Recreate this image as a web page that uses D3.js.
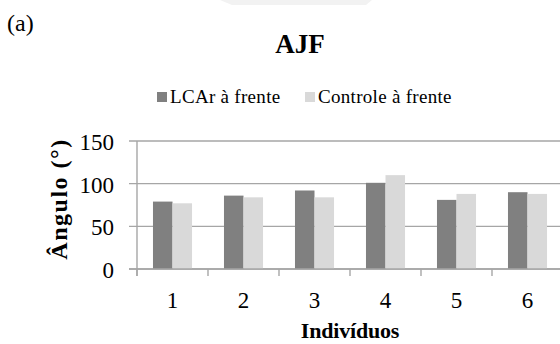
<!DOCTYPE html>
<html>
<head>
<meta charset="utf-8">
<script src="https://cdn.jsdelivr.net/npm/d3@7"></script>
<style>
  body { margin: 0; background: #fff; }
  text { font-family: "Liberation Serif", "Times New Roman", serif; }
</style>
</head>
<body>
<script>
// data
var individuos = ["1", "2", "3", "4", "5", "6"];
var series = ["LCAr à frente", "Controle à frente"];
var lcar = [79, 86, 92, 101, 81, 90];
var controle = [77, 84, 84, 110, 88, 88];
var yTicks = [0, 50, 100, 150];

var colors = ["#808080", "#d9d9d9"];
var gridColor = "#a6a6a6";

var width = 560, height = 344;
var margin = { top: 141, right: -3, bottom: 75, left: 137 };

var svg = d3.select("body")
    .append("svg")
    .attr("width", width)
    .attr("height", height);

// faint shape at the top edge
svg.append("path")
    .attr("d", "M220,0 L372,0 L366,5 L232,5 Z")
    .attr("fill", "#f2f2f2");

svg.append("text")
    .attr("x", 7).attr("y", 31)
    .attr("font-size", 24)
    .text("(a)");

svg.append("text")
    .attr("x", 300).attr("y", 53)
    .attr("text-anchor", "middle")
    .attr("font-size", 27)
    .attr("font-weight", "bold")
    .text("AJF");

var x0 = d3.scaleBand()
    .domain(individuos)
    .range([margin.left, width - margin.right]);

var x1 = d3.scaleBand()
    .domain(series)
    .range([x0.bandwidth() * 0.225, x0.bandwidth() * 0.775]);

var y = d3.scaleLinear()
    .domain([0, 150])
    .range([height - margin.bottom, margin.top]);

// gridlines
svg.append("g")
    .selectAll("line")
    .data(yTicks)
    .enter().append("line")
    .attr("x1", margin.left - 8)
    .attr("x2", width - margin.right)
    .attr("y1", function (d) { return y(d) })
    .attr("y2", function (d) { return y(d) })
    .attr("stroke", gridColor)
    .attr("stroke-width", 1.4);

// y tick labels
svg.append("g")
    .selectAll("text")
    .data(yTicks)
    .enter().append("text")
    .attr("x", 114)
    .attr("y", function (d) { return y(d) + 9 })
    .attr("text-anchor", "end")
    .attr("font-size", 23)
    .text(function (d) { return d });

// bars
var table = individuos.map(function (c, i) {
    return { cat: c, values: [lcar[i], controle[i]] };
});

var groups = svg.append("g")
    .selectAll("g")
    .data(table)
    .enter().append("g")
    .attr("transform", function (d) { return "translate(" + x0(d.cat) + ",0)" });

groups.selectAll("rect")
    .data(function (d) { return d.values.map(function (v, j) { return { s: series[j], v: v, j: j } }) })
    .enter().append("rect")
    .attr("x", function (d) { return x1(d.s) })
    .attr("width", x1.bandwidth())
    .attr("y", function (d) { return y(d.v) })
    .attr("height", function (d) { return y(0) - y(d.v) })
    .attr("fill", function (d) { return colors[d.j] });

// axes lines
svg.append("line")
    .attr("x1", margin.left).attr("x2", margin.left)
    .attr("y1", y(150)).attr("y2", y(0) + 7)
    .attr("stroke", gridColor).attr("stroke-width", 1.4);

svg.append("line")
    .attr("x1", margin.left - 8).attr("x2", width)
    .attr("y1", y(0)).attr("y2", y(0))
    .attr("stroke", gridColor).attr("stroke-width", 1.4);

// x ticks at band boundaries
svg.append("g")
    .selectAll("line")
    .data(individuos)
    .enter().append("line")
    .attr("x1", function (d) { return x0(d) })
    .attr("x2", function (d) { return x0(d) })
    .attr("y1", y(0))
    .attr("y2", y(0) + 7)
    .attr("stroke", gridColor)
    .attr("stroke-width", 1.4);

svg.append("g")
    .selectAll("text")
    .data(individuos)
    .enter().append("text")
    .attr("x", function (d) { return x0(d) + x0.bandwidth() / 2 })
    .attr("y", 308)
    .attr("text-anchor", "middle")
    .attr("font-size", 23)
    .text(function (d) { return d });

svg.append("text")
    .attr("x", 350).attr("y", 338)
    .attr("text-anchor", "middle")
    .attr("font-size", 22)
    .attr("font-weight", "bold")
    .attr("letter-spacing", -0.2)
    .text("Indivíduos");

svg.append("text")
    .attr("transform", "translate(67," + ((y(0) + y(150)) / 2 - 6) + ") rotate(-90)")
    .attr("text-anchor", "middle")
    .attr("font-size", 24)
    .attr("font-weight", "bold")
    .attr("letter-spacing", 1.5)
    .text("Ângulo (°)");

// legend
var legendX = [157, 305];
var legend = svg.append("g")
    .selectAll("g")
    .data(series)
    .enter().append("g")
    .attr("transform", function (d, i) { return "translate(" + legendX[i] + ",92)" });

legend.append("rect")
    .attr("width", 10).attr("height", 10)
    .attr("fill", function (d, i) { return colors[i] });

legend.append("text")
    .attr("x", 13).attr("y", 11)
    .attr("font-size", 19)
    .attr("letter-spacing", 0.3)
    .text(function (d) { return d });
</script>
</body>
</html>
